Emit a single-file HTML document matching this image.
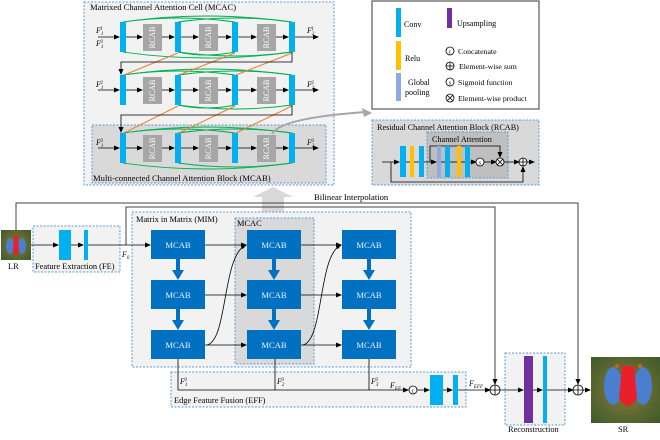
<!DOCTYPE html>
<html><head><meta charset="utf-8"><style>
body{margin:0;background:#fff}
svg{display:block;font-family:"Liberation Serif",serif}
</style></head><body>
<svg width="660" height="440" viewBox="0 0 660 440" xmlns="http://www.w3.org/2000/svg">
<defs>
<marker id="a" markerWidth="6" markerHeight="6" refX="5" refY="3" orient="auto" markerUnits="userSpaceOnUse"><path d="M0,0.5L6,3L0,5.5z" fill="#000"/></marker>
<radialGradient id="fur" cx="50%" cy="50%" r="70%"><stop offset="0" stop-color="#8a7a3a"/><stop offset="1" stop-color="#3d5a2a"/></radialGradient>
</defs>

<!-- ===== Top MCAC panel ===== -->
<rect x="84" y="2" width="250" height="183" fill="#f2f2f2" stroke="#5b9bd5" stroke-dasharray="2,1.5"/>
<rect x="92" y="125" width="234" height="58" fill="#d9d9d9" stroke="#5b9bd5" stroke-dasharray="2,1.5"/>
<text x="90" y="10" font-size="8.6">Matrixed Channel Attention Cell (MCAC)</text>
<text x="93" y="181" font-size="8.6">Multi-connected Channel Attention Block (MCAB)</text>

<g fill="none" stroke="#00b050" stroke-width="0.9">
<path d="M123,22 Q206,10 292,22"/><path d="M123,22 Q178,14 235,22"/><path d="M178,22 Q235,14 292,22"/>
<path d="M123,52 Q206,64 292,52"/><path d="M178,52 Q206,58 235,52"/><path d="M178,52 Q235,60 292,52"/>
<path d="M123,75 Q206,63 292,75"/><path d="M123,75 Q178,67 235,75"/><path d="M178,75 Q235,67 292,75"/>
<path d="M178,105 Q235,113 292,105"/><path d="M178,105 Q206,111 235,105"/>
<path d="M123,133 Q206,121 292,133"/><path d="M123,133 Q178,125 235,133"/><path d="M178,133 Q235,125 292,133"/>
<path d="M123,163 Q206,175 292,163"/><path d="M178,163 Q235,171 292,163"/>
</g>
<g stroke="#ed7d31" stroke-width="1">
<line x1="178" y1="53" x2="124" y2="75"/><line x1="235" y1="53" x2="179" y2="75"/><line x1="292" y1="53" x2="236" y2="75"/>
<line x1="178" y1="106" x2="124" y2="133"/><line x1="235" y1="106" x2="179" y2="133"/><line x1="292" y1="106" x2="236" y2="133"/>
</g>
<g stroke="#000" stroke-width="0.8" fill="none">
<path d="M292,52 V62 H121 V74" marker-end="url(#a)"/>
<path d="M292,105 V115 H121 V132" marker-end="url(#a)"/>
<line x1="98" y1="37" x2="119" y2="37" marker-end="url(#a)"/><line x1="98" y1="90" x2="119" y2="90" marker-end="url(#a)"/><line x1="98" y1="148" x2="119" y2="148" marker-end="url(#a)"/>
<g id="row"><line x1="126" y1="37" x2="142" y2="37" marker-end="url(#a)"/><line x1="162" y1="37" x2="174" y2="37" marker-end="url(#a)"/><line x1="181" y1="37" x2="198" y2="37" marker-end="url(#a)"/><line x1="218" y1="37" x2="231" y2="37" marker-end="url(#a)"/><line x1="238" y1="37" x2="256" y2="37" marker-end="url(#a)"/><line x1="276" y1="37" x2="288" y2="37" marker-end="url(#a)"/><line x1="295" y1="37" x2="318" y2="37" marker-end="url(#a)"/></g>
<use href="#row" y="53"/><use href="#row" y="111"/>
</g>
<g id="cells">
<g fill="#00b0f0"><rect x="120" y="22" width="6" height="30"/><rect x="175" y="22" width="6" height="30"/><rect x="232" y="22" width="6" height="30"/><rect x="289" y="22" width="6" height="30"/></g>
<g fill="#a6a6a6"><rect x="143" y="24" width="19" height="27"/><rect x="199" y="24" width="19" height="27"/><rect x="257" y="24" width="19" height="27"/></g>
<g font-size="8" fill="#fff"><text transform="translate(155,37.5) rotate(-90)" text-anchor="middle">RCAB</text><text transform="translate(211,37.5) rotate(-90)" text-anchor="middle">RCAB</text><text transform="translate(269,37.5) rotate(-90)" text-anchor="middle">RCAB</text></g>
</g>
<use href="#cells" y="53"/><use href="#cells" y="111"/>
<g font-size="8" font-style="italic">
<text x="96" y="33">F<tspan font-size="5" dy="2">1</tspan><tspan font-size="5" dy="-5" dx="-3">1</tspan></text>
<text x="96" y="46">F<tspan font-size="5" dy="2">1</tspan><tspan font-size="5" dy="-5" dx="-3">3</tspan></text>
<text x="96" y="87">F<tspan font-size="5" dy="2">1</tspan><tspan font-size="5" dy="-5" dx="-3">2</tspan></text>
<text x="96" y="145">F<tspan font-size="5" dy="2">1</tspan><tspan font-size="5" dy="-5" dx="-3">3</tspan></text>
<text x="307" y="33">F<tspan font-size="5" dy="2">2</tspan><tspan font-size="5" dy="-5" dx="-3">1</tspan></text>
<text x="307" y="87">F<tspan font-size="5" dy="2">2</tspan><tspan font-size="5" dy="-5" dx="-3">2</tspan></text>
<text x="307" y="145">F<tspan font-size="5" dy="2">2</tspan><tspan font-size="5" dy="-5" dx="-3">3</tspan></text>
</g>
<path d="M272,134 Q280,118 366,112" fill="none" stroke="#a6a6a6" stroke-width="2"/>
<path d="M362,108 L372,113 L364,117" fill="#a6a6a6"/>

<!-- ===== Legend ===== -->
<rect x="372" y="1" width="167" height="108" fill="#fff" stroke="#595959" stroke-width="1.2"/>
<rect x="396" y="8" width="5" height="29" fill="#00b0f0"/><text x="404" y="27" font-size="8">Conv</text>
<rect x="396" y="41" width="5" height="29" fill="#ffc000"/><text x="405" y="61" font-size="8">Relu</text>
<rect x="396" y="73" width="5" height="28" fill="#8faadc"/><text x="408" y="85" font-size="8">Global</text><text x="405" y="95" font-size="8">pooling</text>
<rect x="447" y="8" width="5" height="20" fill="#7030a0"/><text x="457" y="26" font-size="8">Upsampling</text>
<g fill="none" stroke="#000" stroke-width="0.8">
<circle cx="450" cy="51" r="4"/><circle cx="450" cy="66" r="4"/><path d="M446,66H454M450,62V70"/>
<circle cx="450" cy="82" r="4"/><circle cx="450" cy="98" r="4"/><path d="M447,95L453,101M453,95L447,101"/>
</g>
<text x="450" y="53.5" font-size="6" text-anchor="middle">c</text><text x="450" y="84.5" font-size="6" text-anchor="middle">s</text>
<text x="458" y="54" font-size="7.8">Concatenate</text><text x="459" y="69" font-size="7.8">Element-wise sum</text>
<text x="458" y="85" font-size="7.8">Sigmoid function</text><text x="458" y="101" font-size="7.8">Element-wise product</text>

<!-- ===== RCAB detail ===== -->
<rect x="372" y="120" width="167" height="65" fill="#d9d9d9" stroke="#5b9bd5" stroke-dasharray="2,1.5"/>
<text x="377" y="130" font-size="8.2">Residual Channel Attention Block (RCAB)</text>
<rect x="427" y="132" width="81" height="46" fill="#bfbfbf" stroke="#5b9bd5" stroke-dasharray="2,1.5"/>
<text x="432" y="142" font-size="8.2">Channel Attention</text>
<g stroke="#000" stroke-width="0.8" fill="none">
<line x1="382" y1="162" x2="399" y2="162" marker-end="url(#a)"/><line x1="406" y1="162" x2="410" y2="162"/><line x1="414" y1="162" x2="419" y2="162"/><line x1="424" y1="162" x2="436" y2="162" marker-end="url(#a)"/>
<line x1="441" y1="162" x2="445" y2="162"/><line x1="450" y1="162" x2="457" y2="162"/><line x1="461" y1="162" x2="465" y2="162"/><line x1="470" y1="162" x2="476" y2="162" marker-end="url(#a)"/>
<line x1="484" y1="162" x2="496" y2="162" marker-end="url(#a)"/><line x1="504" y1="162" x2="519" y2="162" marker-end="url(#a)"/><line x1="527" y1="162" x2="534" y2="162" marker-end="url(#a)"/>
<path d="M430,162V146H500V157" marker-end="url(#a)"/><path d="M391,162V182H523V167" marker-end="url(#a)"/>
<circle cx="480" cy="162" r="4" fill="#fff"/><circle cx="500" cy="162" r="4" fill="#fff"/><path d="M497,159L503,165M503,159L497,165"/>
<circle cx="523" cy="162" r="4" fill="#fff"/><path d="M519,162H527M523,158V166"/>
</g>
<text x="480" y="164.5" font-size="6" text-anchor="middle">s</text>
<rect x="400" y="146" width="6" height="31" fill="#00b0f0"/><rect x="410" y="146" width="4" height="31" fill="#ffc000"/><rect x="419" y="146" width="5" height="31" fill="#00b0f0"/>
<rect x="437" y="146" width="4" height="31" fill="#8faadc"/><rect x="445" y="146" width="5" height="31" fill="#00b0f0"/><rect x="457" y="146" width="4" height="31" fill="#ffc000"/><rect x="465" y="146" width="5" height="31" fill="#00b0f0"/>

<!-- big gray arrow -->
<path d="M262,212V197H253L273,187L293,197H284V212Z" fill="#d9d9d9"/>

<!-- ===== Bottom ===== -->
<g stroke="#404040" stroke-width="1" fill="none">
<path d="M16,230V203H578V384" marker-end="url(#a)"/>
<path d="M126,245V207H495V384" marker-end="url(#a)"/>
</g>
<text x="314" y="200" font-size="8.6">Bilinear Interpolation</text>

<rect x="33" y="226" width="87" height="46" fill="#f2f2f2" stroke="#5b9bd5" stroke-dasharray="2,1.5"/>
<rect x="132" y="212" width="279" height="155" fill="#f2f2f2" stroke="#5b9bd5" stroke-dasharray="2,1.5"/>
<rect x="235" y="218" width="79" height="146" fill="#d9d9d9" stroke="#5b9bd5" stroke-dasharray="2,1.5"/>
<rect x="171" y="372" width="295" height="35" fill="#f2f2f2" stroke="#5b9bd5" stroke-dasharray="2,1.5"/>
<rect x="505" y="353" width="60" height="72" fill="#f2f2f2" stroke="#5b9bd5" stroke-dasharray="2,1.5"/>
<text x="35" y="269" font-size="8.4">Feature Extraction (FE)</text>
<text x="136" y="222" font-size="8.4">Matrix in Matrix (MIM)</text>
<text x="237" y="226" font-size="8.4">MCAC</text>
<text x="174" y="403" font-size="8.4">Edge Feature Fusion (EFF)</text>
<text x="508" y="432" font-size="8.4">Reconstruction</text>
<text x="8" y="269" font-size="8.4">LR</text>
<text x="618" y="432" font-size="8.4">SR</text>
<text x="122" y="257" font-size="8" font-style="italic">F<tspan font-size="5" dy="2">0</tspan></text>

<!-- LR image -->
<rect x="1" y="230" width="30" height="30" fill="url(#fur)"/>
<ellipse cx="10" cy="246" rx="4" ry="8" fill="#4a7fd0"/><ellipse cx="22" cy="246" rx="4" ry="8" fill="#4a7fd0"/>
<path d="M14,236H18L19,252Q16,258 13,252Z" fill="#e8202a"/>
<!-- SR image -->
<rect x="591" y="357" width="69" height="66" fill="url(#fur)"/>
<ellipse cx="613" cy="386" rx="9" ry="19" fill="#4a7fd0"/><ellipse cx="643" cy="386" rx="9" ry="19" fill="#4a7fd0"/>
<path d="M622,366H634L637,398Q628,414 619,398Z" fill="#e8202a"/>
<circle cx="617" cy="366" r="2" fill="#c46a10"/><circle cx="640" cy="366" r="2" fill="#c46a10"/>

<g stroke="#000" stroke-width="0.8" fill="none">
<line x1="31" y1="245" x2="58" y2="245" marker-end="url(#a)"/><line x1="71" y1="245" x2="83" y2="245" marker-end="url(#a)"/>
<line x1="88" y1="245" x2="150" y2="245" marker-end="url(#a)"/>
<line x1="205" y1="245" x2="246" y2="245" marker-end="url(#a)"/><line x1="301" y1="245" x2="341" y2="245" marker-end="url(#a)"/>
<line x1="205" y1="295" x2="246" y2="295" marker-end="url(#a)"/><line x1="301" y1="295" x2="341" y2="295" marker-end="url(#a)"/>
<line x1="205" y1="345" x2="246" y2="345" marker-end="url(#a)"/><line x1="301" y1="345" x2="341" y2="345" marker-end="url(#a)"/>
<path d="M207,345C228,340 222,255 246,245" marker-end="url(#a)"/>
<path d="M303,345C324,340 318,255 341,245" marker-end="url(#a)"/>
<path d="M178,359V390H408" marker-end="url(#a)"/><line x1="275" y1="359" x2="275" y2="390"/><line x1="369" y1="359" x2="369" y2="390"/>
<line x1="417" y1="390" x2="429" y2="390" marker-end="url(#a)"/><line x1="443" y1="390" x2="452" y2="390" marker-end="url(#a)"/>
<line x1="458" y1="390" x2="490" y2="390" marker-end="url(#a)"/><line x1="500" y1="390" x2="523" y2="390" marker-end="url(#a)"/>
<line x1="533" y1="390" x2="542" y2="390" marker-end="url(#a)"/><line x1="547" y1="390" x2="573" y2="390" marker-end="url(#a)"/>
<line x1="583" y1="390" x2="590" y2="390" marker-end="url(#a)"/>
<circle cx="413" cy="390" r="4" fill="#fff"/>
<circle cx="495" cy="390" r="5" fill="#fff"/><path d="M490,390H500M495,385V395"/>
<circle cx="578" cy="390" r="5" fill="#fff"/><path d="M573,390H583M578,385V395"/>
</g>
<text x="413" y="392.5" font-size="6" text-anchor="middle">c</text>
<g font-size="8" font-style="italic">
<text x="180" y="384">F<tspan font-size="5" dy="2">1</tspan><tspan font-size="5" dy="-5" dx="-3">3</tspan></text>
<text x="277" y="384">F<tspan font-size="5" dy="2">2</tspan><tspan font-size="5" dy="-5" dx="-3">3</tspan></text>
<text x="371" y="384">F<tspan font-size="5" dy="2">3</tspan><tspan font-size="5" dy="-5" dx="-3">3</tspan></text>
<text x="390" y="388">F<tspan font-size="5" dy="2">EF</tspan></text>
<text x="469" y="386">F<tspan font-size="5" dy="2">EFF</tspan></text>
</g>

<rect x="59" y="230" width="12" height="30" fill="#00b0f0"/><rect x="84" y="230" width="4" height="30" fill="#00b0f0"/>
<rect x="430" y="375" width="13" height="30" fill="#00b0f0"/><rect x="453" y="375" width="5" height="30" fill="#00b0f0"/>
<rect x="524" y="356" width="9" height="67" fill="#7030a0"/><rect x="543" y="356" width="4" height="67" fill="#00b0f0"/>

<g fill="#0070c0">
<rect x="151" y="230" width="54" height="29"/><rect x="247" y="230" width="54" height="29"/><rect x="342" y="230" width="54" height="29"/>
<rect x="151" y="280" width="54" height="29"/><rect x="247" y="280" width="54" height="29"/><rect x="342" y="280" width="54" height="29"/>
<rect x="151" y="330" width="54" height="29"/><rect x="247" y="330" width="54" height="29"/><rect x="342" y="330" width="54" height="29"/>
<g id="dn"><path d="M176,259V270H172L178,280L184,270H180V259Z"/><path d="M176,309V320H172L178,330L184,320H180V309Z"/></g>
<use href="#dn" x="96"/><use href="#dn" x="191"/>
</g>
<g font-size="8.6" fill="#e8f0ff" text-anchor="middle">
<text x="178" y="248">MCAB</text><text x="274" y="248">MCAB</text><text x="369" y="248">MCAB</text>
<text x="178" y="298">MCAB</text><text x="274" y="298">MCAB</text><text x="369" y="298">MCAB</text>
<text x="178" y="348">MCAB</text><text x="274" y="348">MCAB</text><text x="369" y="348">MCAB</text>
</g>
</svg>
</body></html>
